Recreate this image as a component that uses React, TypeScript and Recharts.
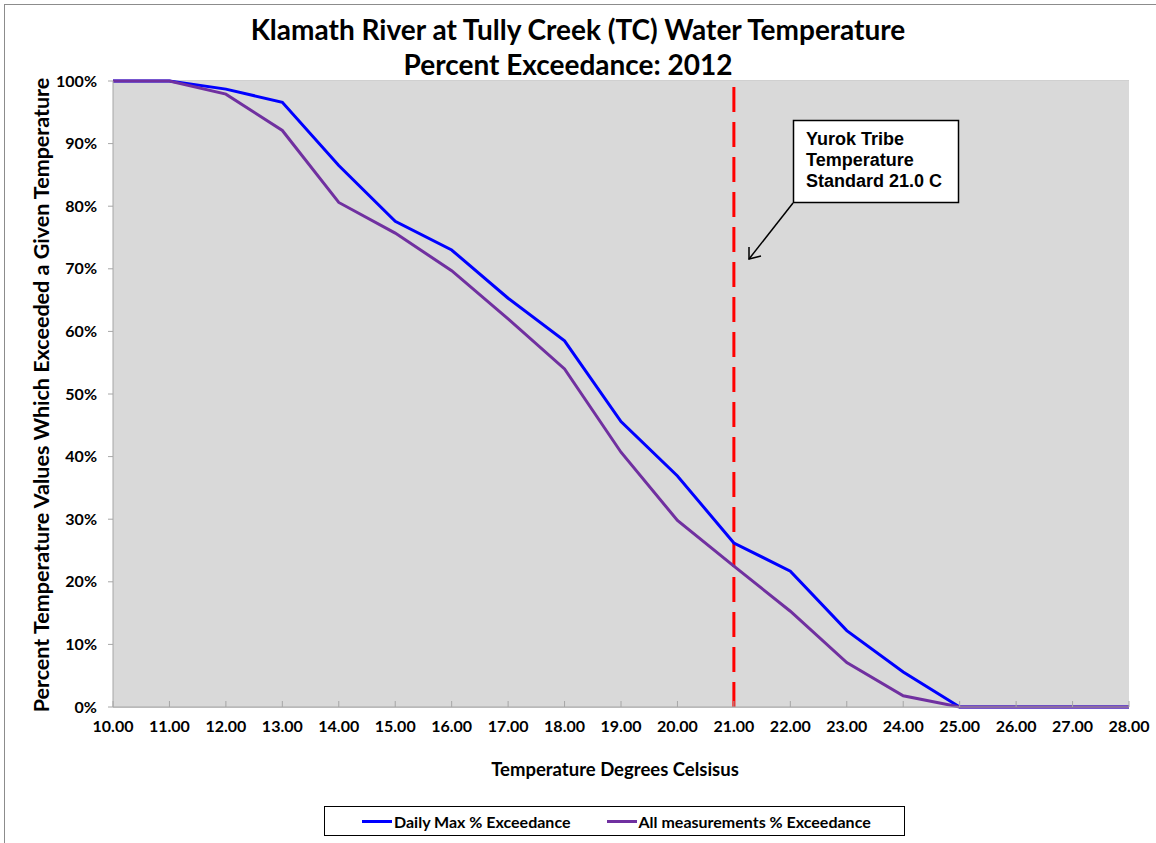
import React from 'react';
import { LineChart, Line, XAxis, YAxis, CartesianGrid, ReferenceLine, Customized, Legend } from 'recharts';

const temperatures = [10, 11, 12, 13, 14, 15, 16, 17, 18, 19, 20, 21, 22, 23, 24, 25, 26, 27, 28];
const dailyMax = [100, 100, 98.7, 96.6, 86.5, 77.6, 73.0, 65.3, 58.5, 45.6, 36.9, 26.2, 21.7, 12.2, 5.6, 0, 0, 0, 0];
const allMeasurements = [100, 100, 97.9, 92.1, 80.6, 75.7, 69.7, 62.0, 54.0, 40.7, 29.8, 22.5, 15.3, 7.1, 1.8, 0, 0, 0, 0];
const yTicks = [0, 10, 20, 30, 40, 50, 60, 70, 80, 90, 100];
const standardTemp = 21;

const data = temperatures.map((t, i) => ({ t, dailyMax: dailyMax[i], all: allMeasurements[i] }));

const FONT = 'Lato, "Open Sans", sans-serif';
const ARIAL = '"Liberation Sans", Arial, sans-serif';

const Titles = () => (
  <g>
    <rect x={4.5} y={4.5} width={1160} height={850} fill="none" stroke="#8c8c8c" strokeWidth={1} />
    <text x={578} y={40} textAnchor="middle" fontFamily={FONT} fontWeight="bold" fontSize={28} fill="#000">
      Klamath River at Tully Creek (TC) Water Temperature
    </text>
    <text x={568} y={75} textAnchor="middle" fontFamily={FONT} fontWeight="bold" fontSize={28} fill="#000">
      Percent Exceedance: 2012
    </text>
    <text
      x={0}
      y={0}
      transform="translate(49,395) rotate(-90)"
      textAnchor="middle"
      fontFamily={FONT}
      fontWeight="bold"
      fontSize={21.5}
      fill="#000"
    >
      Percent Temperature Values Which Exceeded a Given Temperature
    </text>
    <text x={615} y={776} textAnchor="middle" fontFamily={FONT} fontWeight="bold" fontSize={18.5} fill="#000">
      Temperature Degrees Celsisus
    </text>
  </g>
);

const Callout = () => (
  <g>
    <rect x={793.5} y={120.5} width={165} height={82} fill="#fff" stroke="#000" strokeWidth={1.5} />
    <text fontFamily={ARIAL} fontWeight="bold" fontSize={18} fill="#000">
      <tspan x={806} y={145}>Yurok Tribe</tspan>
      <tspan x={806} y={166}>Temperature</tspan>
      <tspan x={806} y={187}>Standard 21.0 C</tspan>
    </text>
    <line x1={793} y1={203} x2={749} y2={259} stroke="#000" strokeWidth={1.5} />
    <polyline points="749,247 749,259 761,256" fill="none" stroke="#000" strokeWidth={1.5} />
  </g>
);

const LegendContent = () => (
  <div
    style={{
      position: 'absolute',
      left: 324,
      top: 806,
      width: 581,
      height: 30,
      border: '1px solid #000',
      background: '#fff',
      boxSizing: 'border-box',
      fontFamily: FONT,
      fontWeight: 'bold',
      fontSize: 16,
      display: 'flex',
      alignItems: 'center',
      whiteSpace: 'nowrap',
    }}
  >
    <span style={{ display: 'inline-block', width: 30, height: 3, background: '#0000FF', marginLeft: 37 }} />
    <span style={{ marginLeft: 2 }}>Daily Max % Exceedance</span>
    <span style={{ display: 'inline-block', width: 30, height: 3, background: '#7030A0', marginLeft: 36 }} />
    <span style={{ marginLeft: 2 }}>All measurements % Exceedance</span>
  </div>
);

export default function App() {
  return (
    <div style={{ position: 'absolute', left: 0, top: 0, width: 1156, height: 843, background: '#fff', overflow: 'hidden' }}>
      <LineChart width={1156} height={843} data={data} margin={{ top: 81, right: 27, bottom: 106, left: 53 }}>
        <Customized component={Titles} />
        <rect x={113} y={81} width={1016} height={626} fill="#D9D9D9" />
        <CartesianGrid horizontal vertical={false} stroke="#A0A0A0" strokeWidth={1} fill="#D9D9D9" />
        <XAxis
          dataKey="t"
          type="number"
          domain={[10, 28]}
          ticks={temperatures}
          tickFormatter={(v: number) => v.toFixed(2)}
          stroke="#A6A6A6"
          tickSize={-6}
          tickMargin={20}
          height={30}
          interval={0}
          tick={{ fontFamily: FONT, fontWeight: 'bold', fontSize: 16, fill: '#000' }}
        />
        <YAxis
          type="number"
          domain={[0, 100]}
          ticks={yTicks}
          tickFormatter={(v: number) => `${v}%`}
          stroke="#A6A6A6"
          tickSize={5}
          tickMargin={11}
          width={60}
          interval={0}
          tick={{ fontFamily: FONT, fontWeight: 'bold', fontSize: 16, fill: '#000' }}
        />
        <ReferenceLine x={standardTemp} stroke="#FF0000" strokeWidth={3} strokeDasharray="25 10" />
        <Line type="linear" dataKey="dailyMax" stroke="#0000FF" strokeWidth={3} dot={false} isAnimationActive={false} />
        <Line type="linear" dataKey="all" stroke="#7030A0" strokeWidth={3} dot={false} isAnimationActive={false} />
        <Customized component={Callout} />
        <Legend content={LegendContent} wrapperStyle={{ position: 'absolute', left: 0, top: 0, width: 0, height: 0 }} />
      </LineChart>
    </div>
  );
}
